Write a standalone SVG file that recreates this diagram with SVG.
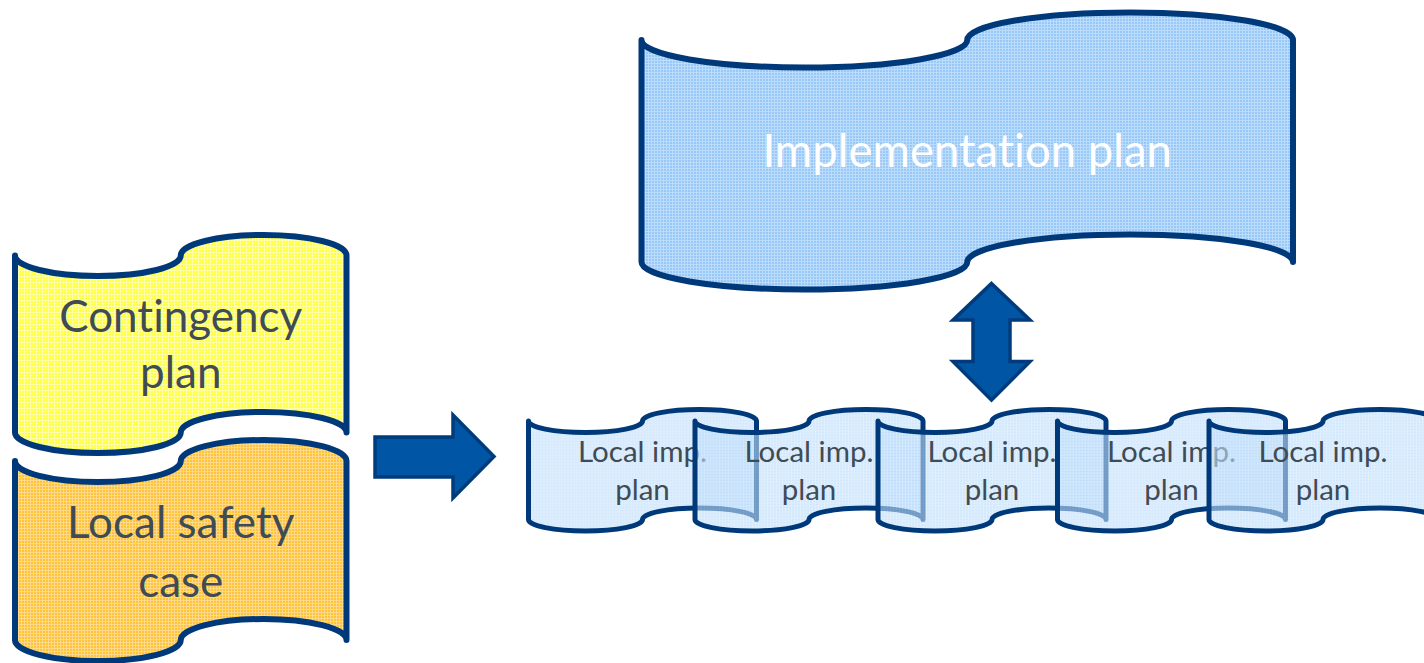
<svg xmlns="http://www.w3.org/2000/svg" xmlns:xlink="http://www.w3.org/1999/xlink" width="1424" height="663" viewBox="0 0 1424 663">
  <defs>
    <style>
      text { font-variant-ligatures: none; font-feature-settings: "liga" 0, "clig" 0; }
      .scroll { stroke: #00397A; stroke-width: 6; stroke-linejoin: round; stroke-linecap: round; }
      .local { stroke: #00397A; stroke-width: 5; stroke-linejoin: round; stroke-linecap: round; fill: url(#texLocal); fill-opacity: 0.6; }
      .big { font-family: Lato, "Open Sans", "Liberation Sans", sans-serif; font-size: 44px; fill: #404B55; text-anchor: middle; }
      .small { font-family: Lato, "Open Sans", "Liberation Sans", sans-serif; font-size: 29.5px; fill: #404B55; text-anchor: middle; }
      .white { fill: #FFFFFF; font-size: 45.5px; }
      .block { fill: #0055A5; stroke: #003C7C; stroke-width: 3.5; stroke-linejoin: miter; }
    </style>
    <!-- fine grid textures for the tape fills -->
    <pattern id="texYellow" width="3" height="3" patternUnits="userSpaceOnUse">
      <rect width="3" height="3" fill="#FFFF45"/>
      <rect width="3" height="1" fill="#FFFFA8"/>
      <rect width="1" height="3" fill="#FFFFA8"/>
    </pattern>
    <pattern id="texOrange" width="3" height="3" patternUnits="userSpaceOnUse">
      <rect width="3" height="3" fill="#FFC338"/>
      <rect width="3" height="1" fill="#FFD98A"/>
      <rect width="1" height="3" fill="#FFD98A"/>
    </pattern>
    <pattern id="texBlue" width="3" height="3" patternUnits="userSpaceOnUse">
      <rect width="3" height="3" fill="#98C8F8"/>
      <rect width="3" height="1" fill="#BCDCFB"/>
      <rect width="1" height="3" fill="#BCDCFB"/>
    </pattern>
    <pattern id="texLocal" width="3" height="3" patternUnits="userSpaceOnUse">
      <rect width="3" height="3" fill="#B2D8FA"/>
      <rect width="3" height="1" fill="#CCE5FC"/>
      <rect width="1" height="3" fill="#CCE5FC"/>
    </pattern>
    <!-- punched-tape outline for the local plans, drawn at the origin -->
    <path id="localTape" d="M0,11.5 A57,11.5 0 0 0 114,11.5 A57,11.5 0 0 1 228,11.5 L228,110 A57,11.5 0 0 0 114,110 A57,11.5 0 0 1 0,110 Z"/>
  </defs>

  <rect width="1424" height="663" fill="#FFFFFF"/>

  <g id="contingency-plan">
    <path class="scroll" fill="url(#texYellow)" d="M15,255.5 A82.875,20.5 0 0 0 180.75,255.5 A82.875,20.5 0 0 1 346.5,255.5 L346.5,432.5 A82.875,20.5 0 0 0 180.75,432.5 A82.875,20.5 0 0 1 15,432.5 Z"/>
    <text class="big" x="180.75" y="332">Contingency</text>
    <text class="big" x="180.75" y="388">plan</text>
  </g>

  <g id="local-safety-case">
    <path class="scroll" fill="url(#texOrange)" d="M15,461 A82.875,21 0 0 0 180.75,461 A82.875,21 0 0 1 346.5,461 L346.5,640 A82.875,21 0 0 0 180.75,640 A82.875,21 0 0 1 15,640 Z"/>
    <text class="big" x="180.75" y="538">Local safety</text>
    <text class="big" x="180.75" y="597">case</text>
  </g>

  <g id="implementation-plan">
    <path class="scroll" fill="url(#texBlue)" d="M641.5,40 A162.875,27.5 0 0 0 967.25,40 A162.875,27.5 0 0 1 1293,40 L1293,262 A162.875,27.5 0 0 0 967.25,262 A162.875,27.5 0 0 1 641.5,262 Z"/>
    <text class="big white" x="967.25" y="167">Implementation plan</text>
  </g>

  <g id="connectors">
    <polygon class="block" points="375,437 453,437 453,415 494,456.5 453,498 453,477 375,477"/>
    <polygon class="block" points="991.5,283.5 1030,320 1010,320 1010,361.5 1030,361.5 991.5,400 953,361.5 973,361.5 973,320 953,320"/>
  </g>

  <g id="local-plan-1">
    <use xlink:href="#localTape" class="local" transform="translate(528.5,409.5)"/>
    <text class="small" x="642.5" y="462">Local imp.</text>
    <text class="small" x="642.5" y="500">plan</text>
  </g>
  <g id="local-plan-2">
    <use xlink:href="#localTape" class="local" transform="translate(695,409.5)"/>
    <text class="small" x="809" y="462">Local imp.</text>
    <text class="small" x="809" y="500">plan</text>
  </g>
  <g id="local-plan-3">
    <use xlink:href="#localTape" class="local" transform="translate(878,409.5)"/>
    <text class="small" x="992" y="462">Local imp.</text>
    <text class="small" x="992" y="500">plan</text>
  </g>
  <g id="local-plan-4">
    <use xlink:href="#localTape" class="local" transform="translate(1057.5,409.5)"/>
    <text class="small" x="1171.5" y="462">Local imp.</text>
    <text class="small" x="1171.5" y="500">plan</text>
  </g>
  <g id="local-plan-5">
    <use xlink:href="#localTape" class="local" transform="translate(1209,409.5)"/>
    <text class="small" x="1323" y="462">Local imp.</text>
    <text class="small" x="1323" y="500">plan</text>
  </g>
</svg>
